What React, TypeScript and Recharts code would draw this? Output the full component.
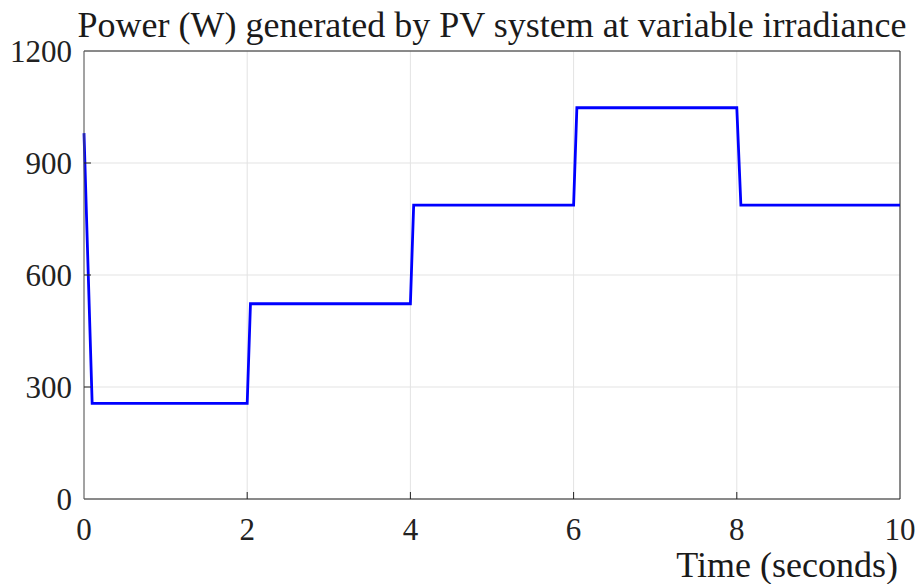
import { LineChart, Line, XAxis, YAxis, CartesianGrid, ReferenceLine } from 'recharts';

// time (s) and PV power (W)
const times = [0, 0.1, 2.0, 2.04, 4.0, 4.04, 6.0, 6.04, 8.0, 8.05, 10];
const power = [980, 256, 256, 523, 523, 787, 787, 1048, 1048, 787, 787];

const xTicks = [0, 2, 4, 6, 8, 10];
const yTicks = [0, 300, 600, 900, 1200];

const data = times.map((t, i) => ({ t, p: power[i] }));

const FONT = '"Liberation Serif", "Times New Roman", serif';

const XTick = ({ x, y, payload }: any) => (
  <g>
    {payload.value > 0 && payload.value < 10 && (
      <line x1={x} y1={y} x2={x} y2={y - 7} stroke="#222" strokeWidth={1} />
    )}
    <text x={x} y={y + 41} textAnchor="middle" fontFamily={FONT} fontSize={31} fill="#222">
      {payload.value}
    </text>
  </g>
);

const YTick = ({ x, y, payload }: any) => (
  <g>
    {payload.value > 0 && payload.value < 1200 && (
      <line x1={x} y1={y} x2={x + 7} y2={y} stroke="#222" strokeWidth={1} />
    )}
    <text x={x - 12} y={y + 11} textAnchor="end" fontFamily={FONT} fontSize={31} fill="#222">
      {payload.value}
    </text>
  </g>
);

export default function App() {
  return (
    <div style={{ position: 'absolute', left: 0, top: 0, width: 920, height: 584, background: '#fff' }}>
      <LineChart
        width={920}
        height={584}
        data={data}
        margin={{ top: 51, right: 20, bottom: 0, left: 0 }}
      >
        <text x={492} y={37} textAnchor="middle" fontFamily={FONT} fontSize={36} fill="#1a1a1a">
          Power (W) generated by PV system at variable irradiance
        </text>
        <CartesianGrid stroke="#e3e3e3" strokeWidth={1} />
        <XAxis
          dataKey="t"
          type="number"
          domain={[0, 10]}
          ticks={xTicks}
          height={85}
          tickSize={0}
          tickMargin={0}
          tickLine={false}
          tick={<XTick />}
          axisLine={{ stroke: '#222', strokeWidth: 1 }}
          interval={0}
        />
        <YAxis
          type="number"
          domain={[0, 1200]}
          ticks={yTicks}
          width={84}
          tickSize={0}
          tickMargin={0}
          tickLine={false}
          tick={<YTick />}
          axisLine={{ stroke: '#555', strokeWidth: 1 }}
          interval={0}
        />
        <ReferenceLine y={1200} stroke="#222" strokeWidth={1} />
        <ReferenceLine x={10} stroke="#222" strokeWidth={1} />
        <Line
          type="linear"
          dataKey="p"
          stroke="#0000ff"
          strokeWidth={2.8}
          dot={false}
          isAnimationActive={false}
        />
        <text x={898} y={577} textAnchor="end" fontFamily={FONT} fontSize={36} fill="#1a1a1a">
          Time (seconds)
        </text>
      </LineChart>
    </div>
  );
}
